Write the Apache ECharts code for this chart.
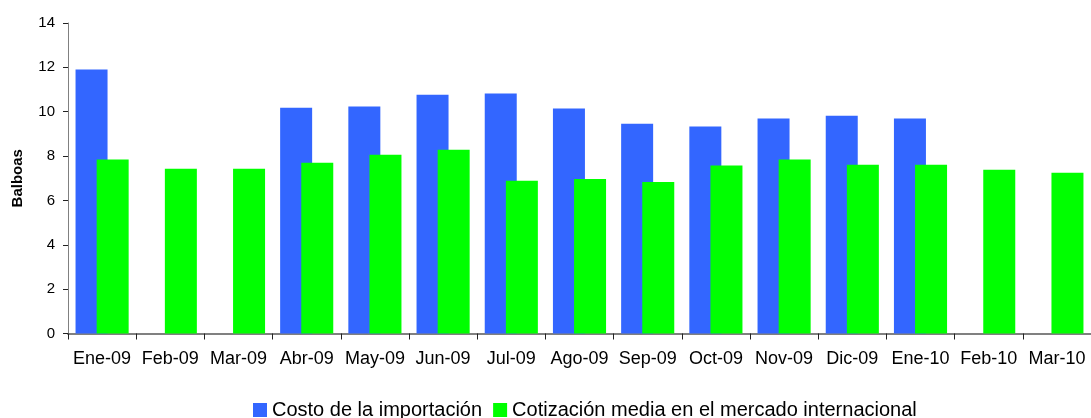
<!DOCTYPE html>
<html>
<head>
<meta charset="utf-8">
<script src="https://cdn.jsdelivr.net/npm/echarts@6/dist/echarts.min.js"></script>
<style>
html,body{margin:0;padding:0;background:#fff;}
#c{width:1091px;height:418px;}
</style>
</head>
<body>
<div id="c"></div>
<script>
const categories = ["Ene-09","Feb-09","Mar-09","Abr-09","May-09","Jun-09","Jul-09","Ago-09","Sep-09","Oct-09","Nov-09","Dic-09","Ene-10","Feb-10","Mar-10"];
const costoImportacion = [11.9, null, null, 10.18, 10.23, 10.77, 10.82, 10.14, 9.46, 9.33, 9.69, 9.82, 9.69, null, null];
const cotizacionMedia = [7.84, 7.43, 7.43, 7.70, 8.06, 8.29, 6.89, 6.97, 6.83, 7.57, 7.84, 7.61, 7.61, 7.38, 7.25];
const yTicks = [0, 2, 4, 6, 8, 10, 12, 14];

const FONT = "'Liberation Sans', Arial, sans-serif";
const chart = echarts.init(document.getElementById('c'));
chart.setOption({
  animation: false,
  backgroundColor: '#fff',
  textStyle: { fontFamily: FONT },
  grid: { left: 68, right: -3, top: 23, bottom: 84.5, containLabel: false },
  legend: {
    left: 253, top: 400, padding: 0,
    icon: 'rect', itemWidth: 14, itemHeight: 14, itemGap: 11,
    textStyle: { fontFamily: FONT, fontSize: 20, color: '#000' },
    data: ['Costo de la importación', 'Cotización media en el mercado internacional']
  },
  xAxis: {
    type: 'category',
    data: categories,
    boundaryGap: true,
    axisLine: { lineStyle: { color: '#808080', width: 2 } },
    axisTick: { show: true, alignWithLabel: false, length: 6, lineStyle: { color: '#222' } },
    axisLabel: { fontFamily: FONT, fontSize: 18, color: '#000', margin: 17, interval: 0 }
  },
  yAxis: {
    type: 'value',
    min: yTicks[0], max: yTicks[yTicks.length - 1], interval: 2,
    name: 'Balboas',
    nameLocation: 'middle',
    nameGap: 43,
    nameRotate: 90,
    nameTextStyle: { fontFamily: FONT, fontSize: 15, fontWeight: 'bold', color: '#000' },
    axisLine: { show: true, lineStyle: { color: '#808080', width: 1 } },
    axisTick: { show: true, length: 5, lineStyle: { color: '#222' } },
    splitLine: { show: false },
    axisLabel: { fontFamily: FONT, fontSize: 15, color: '#000', margin: 13 }
  },
  series: [
    {
      name: 'Costo de la importación', type: 'bar',
      data: costoImportacion,
      barWidth: 32, barGap: '-34%',
      itemStyle: { color: '#3366FF' }
    },
    {
      name: 'Cotización media en el mercado internacional', type: 'bar',
      data: cotizacionMedia,
      barWidth: 32,
      itemStyle: { color: '#00FF00' }
    }
  ]
});
</script>
</body>
</html>
